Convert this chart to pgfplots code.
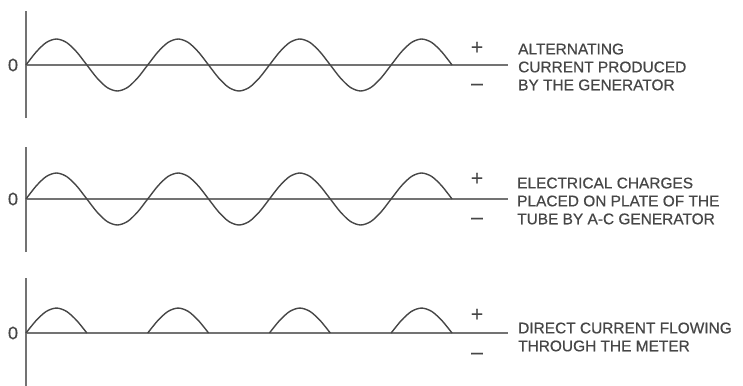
\documentclass[border=0pt]{standalone}
\usepackage{pgfplots}
\pgfplotsset{compat=1.18}
\usepackage{fontspec}
\setmainfont{Liberation Sans}[FakeBold=0.6]

\definecolor{ink}{RGB}{70,70,70}
\definecolor{axisink}{RGB}{115,115,115}

% one wave panel: axis line at x=0 and y=0, no ticks
\pgfplotsset{
  wavepanel/.style={
    x=0.3381bp, y=26bp,
    xmin=0, xmax=1426,
    axis lines=middle,
    axis line style={-, axisink, line width=1.1pt},
    xtick=\empty, ytick=\empty,
    clip=false,
    anchor=origin,
  },
  wave/.style={ink, line width=1.4pt, smooth, no markers},
}

\begin{document}
\begin{tikzpicture}[every node/.style={text=ink}]
\useasboundingbox (0,0) rectangle (743bp,-386bp);

% panel 1: alternating current
\begin{axis}[wavepanel, at={(26bp,-65bp)}, ymin=-2.04, ymax=2.08]
\addplot[wave] coordinates {
(0,0)(30,0.5)(60,0.866)(90,1)(120,0.866)(150,0.5)(180,0)(210,-0.5)(240,-0.866)(270,-1)(300,-0.866)(330,-0.5)
(360,0)(390,0.5)(420,0.866)(450,1)(480,0.866)(510,0.5)(540,0)(570,-0.5)(600,-0.866)(630,-1)(660,-0.866)(690,-0.5)
(720,0)(750,0.5)(780,0.866)(810,1)(840,0.866)(870,0.5)(900,0)(930,-0.5)(960,-0.866)(990,-1)(1020,-0.866)(1050,-0.5)
(1080,0)(1110,0.5)(1140,0.866)(1170,1)(1200,0.866)(1230,0.5)(1260,0)
};
\end{axis}

% panel 2: charges on the plate
\begin{axis}[wavepanel, at={(26bp,-199bp)}, ymin=-2.04, ymax=2.0]
\addplot[wave] coordinates {
(0,0)(30,0.5)(60,0.866)(90,1)(120,0.866)(150,0.5)(180,0)(210,-0.5)(240,-0.866)(270,-1)(300,-0.866)(330,-0.5)
(360,0)(390,0.5)(420,0.866)(450,1)(480,0.866)(510,0.5)(540,0)(570,-0.5)(600,-0.866)(630,-1)(660,-0.866)(690,-0.5)
(720,0)(750,0.5)(780,0.866)(810,1)(840,0.866)(870,0.5)(900,0)(930,-0.5)(960,-0.866)(990,-1)(1020,-0.866)(1050,-0.5)
(1080,0)(1110,0.5)(1140,0.866)(1170,1)(1200,0.866)(1230,0.5)(1260,0)
};
\end{axis}

% panel 3: rectified current
\begin{axis}[wavepanel, at={(26bp,-333bp)}, ymin=-2.1, ymax=2.1]
\addplot[wave] coordinates {(0,0)(30,0.48)(60,0.83)(90,0.96)(120,0.83)(150,0.48)(180,0)};
\addplot[wave] coordinates {(360,0)(390,0.48)(420,0.83)(450,0.96)(480,0.83)(510,0.48)(540,0)};
\addplot[wave] coordinates {(720,0)(750,0.48)(780,0.83)(810,0.96)(840,0.83)(870,0.48)(900,0)};
\addplot[wave] coordinates {(1080,0)(1110,0.48)(1140,0.83)(1170,0.96)(1200,0.83)(1230,0.48)(1260,0)};
\end{axis}

% zero labels
\foreach \yy in {65,199,333}
  \node[font=\fontsize{18}{18}\selectfont] at (13bp,-\yy bp) {0};

% plus and minus signs
\foreach \yp/\ym in {48/87, 179/221, 315/356} {
  \node[font=\fontsize{21}{22}\selectfont] at (477bp,-\yp bp) {+};
  \node[font=\fontsize{21}{22}\selectfont] at (477bp,-\ym bp) {\textendash};
}

% captions
\node[anchor=west, align=left, font=\fontsize{15.5}{18}\selectfont, inner sep=0pt]
  at (518bp,-67bp) {ALTERNATING\\CURRENT PRODUCED\\BY THE GENERATOR};
\node[anchor=west, align=left, font=\fontsize{15.5}{18}\selectfont, inner sep=0pt]
  at (517bp,-201bp) {ELECTRICAL CHARGES\\PLACED ON PLATE OF THE\\TUBE BY A-C GENERATOR};
\node[anchor=west, align=left, font=\fontsize{15.5}{18}\selectfont, inner sep=0pt]
  at (518bp,-337bp) {DIRECT CURRENT FLOWING\\THROUGH THE METER};
\end{tikzpicture}
\end{document}
